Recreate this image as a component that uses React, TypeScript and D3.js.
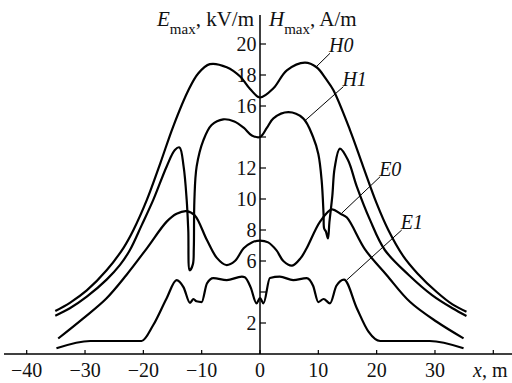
import React from "react";
import * as d3 from "d3";

type P = [number, number];

const H0: P[] = [
  [-35.1, 2.77], [-32.6, 3.3], [-29.7, 4.1], [-26.3, 5.4], [-23.4, 6.85], [-21.7, 8.0],
  [-19.4, 9.94], [-17.1, 12.3], [-14.9, 14.66], [-12.3, 17.0], [-10.6, 18.1],
  [-8.6, 18.7], [-5.7, 18.5], [-3.4, 17.9], [-1.7, 17.1], [0, 16.55], [2.3, 17.14],
  [4.6, 18.3], [7.7, 18.8], [9.7, 18.5], [11.4, 17.7], [12.57, 17.03], [15.43, 14.45],
  [17.7, 12.08], [20, 9.72], [22, 8.0], [24.5, 6.35], [27, 5.2], [30.3, 4.0], [33, 3.2],
  [35.4, 2.73],
];

const H1: P[] = [
  [-35.1, 2.47], [-32.6, 2.95], [-29.7, 3.7], [-26.3, 4.8], [-24, 5.75], [-22.3, 6.71],
  [-20.3, 8.3], [-18.3, 9.94], [-16, 12.1], [-14.6, 13.16], [-13.8, 13.33], [-13.1, 12.1],
  [-12.57, 9.94], [-12.3, 8.0], [-12.05, 5.4], [-11.5, 5.8], [-11.35, 6.8], [-11.25, 9.9],
  [-10.86, 12.1], [-9.7, 13.8], [-8.3, 14.77], [-6.3, 15.14], [-4.4, 15.0], [-2.8, 14.6],
  [-1.4, 14.1], [0, 14.0], [1.2, 14.6], [2.3, 15.2], [4.86, 15.6], [7.4, 15.2], [9.1, 14.0],
  [10.0, 12.9], [10.57, 11.2], [10.9, 9.0], [11.0, 8.1], [11.3, 7.9], [11.65, 7.45],
  [11.9, 8.5], [12.4, 10.2], [12.8, 12.0], [13.7, 13.25], [15.1, 12.5], [16.6, 10.8],
  [18.86, 8.65], [21.4, 6.71], [25.5, 5.1], [29.5, 3.8], [33, 2.95], [35.4, 2.45],
];

const E0: P[] = [
  [-34.6, 1.0], [-30.3, 2.3], [-26.3, 3.6], [-22.9, 5.1], [-19.4, 6.82], [-16, 8.54],
  [-14.3, 9.05], [-12.6, 9.22], [-11.2, 8.95], [-9.1, 7.35], [-7.4, 6.2], [-5.8, 5.74],
  [-4.3, 6.0], [-2.8, 6.82], [-1.4, 7.2], [0, 7.32], [1.4, 7.2], [2.8, 6.7], [4.0, 6.0],
  [5.5, 5.7], [7, 6.2], [8, 6.82], [10.3, 8.54], [12.3, 9.33], [13.8, 9.05], [14.9, 8.8],
  [18, 6.75], [21.7, 5.1], [25.7, 3.37], [30.3, 2.08], [34.9, 1.01],
];

const E1: P[] = [
  [-34.9, 0.37], [-29.1, 0.84], [-20.3, 0.84], [-18.3, 1.87], [-16, 3.6], [-14.3, 4.77],
  [-13.1, 4.3], [-12, 3.3], [-11.4, 3.55], [-10.9, 3.4], [-10, 3.35], [-9.1, 4.55],
  [-8, 4.9], [-5.7, 4.77], [-3.1, 4.99], [-2.6, 4.95], [-1.6, 4.3], [-0.6, 3.27], [0, 3.6],
  [0.6, 3.27], [1.7, 4.9], [3.4, 4.99], [5.7, 4.77], [8, 4.9], [9.1, 4.4], [10, 3.35],
  [10.9, 3.55], [12, 3.27], [13.1, 4.4], [14.4, 4.8], [16.6, 2.95], [18.6, 1.44],
  [20.6, 0.84], [29.1, 0.84], [34.9, 0.37],
];

const smoothSeries: P[][] = [H0, H1, E0];
const stepSeries: P[][] = [E1];

const xTicks = [-40, -30, -20, -10, 0, 10, 20, 30, 40];
const xTickLabels = ["\u221240", "\u221230", "\u221220", "\u221210", "0", "10", "20", "30", ""];
const yTicks = [2, 4, 6, 8, 10, 12, 14, 16, 18, 20];
const yTickLabels = ["2", "", "6", "8", "10", "12", "", "16", "18", "20"];

// label, curve point (x,y), label point (x,y)
const annotations: { label: string; from: P; to: P }[] = [
  { label: "H0", from: [9.7, 18.55], to: [12.0, 19.4] },
  { label: "H1", from: [7.7, 15.05], to: [14.3, 17.25] },
  { label: "E0", from: [14.0, 9.08], to: [20.6, 11.44] },
  { label: "E1", from: [14.86, 4.77], to: [24.3, 8.0] },
];

const W = 512;
const H = 383;
const FONT = "'Liberation Serif', 'Times New Roman', serif";

export default function App() {
  const x = d3.scaleLinear().domain([-40, 40]).range([26.7, 493.3]);
  const y = d3.scaleLinear().domain([0, 20]).range([354, 44]);
  const smooth = d3
    .line<P>()
    .x((d) => x(d[0]))
    .y((d) => y(d[1]))
    .curve(d3.curveCatmullRom.alpha(0.5));
  const mono = d3
    .line<P>()
    .x((d) => x(d[0]))
    .y((d) => y(d[1]))
    .curve(d3.curveMonotoneX);

  const axisX0 = x(0);
  const axisY0 = y(0);

  return (
    <svg
      width={W}
      height={H}
      style={{ position: "absolute", left: 0, top: 0, background: "#fff" }}
      fontFamily={FONT}
    >
      {/* x axis */}
      <line x1={4} x2={512} y1={axisY0} y2={axisY0} stroke="#000" strokeWidth={1.5} />
      {xTicks.map((t, i) => (
        <g key={"xt" + t}>
          <line x1={x(t)} x2={x(t)} y1={axisY0} y2={axisY0 - 4} stroke="#000" strokeWidth={1.2} />
          <text x={x(t)} y={377} textAnchor="middle" fontSize={20} fill="#111">
            {xTickLabels[i]}
          </text>
        </g>
      ))}
      <text x={473} y={377} fontSize={20} fill="#111">
        <tspan fontStyle="italic">x</tspan>
        <tspan>, m</tspan>
      </text>

      {/* y axis */}
      <line x1={axisX0} x2={axisX0} y1={15} y2={axisY0} stroke="#000" strokeWidth={1.5} />
      {yTicks.map((t, i) => (
        <g key={"yt" + t}>
          <line x1={axisX0} x2={axisX0 + 6} y1={y(t)} y2={y(t)} stroke="#000" strokeWidth={1.2} />
          <text x={256.5} y={y(t)} dy="0.35em" textAnchor="end" fontSize={20} fill="#111">
            {yTickLabels[i]}
          </text>
        </g>
      ))}

      {/* axis titles */}
      <text x={254} y={26} textAnchor="end" fontSize={21} fill="#111">
        <tspan fontStyle="italic">E</tspan>
        <tspan fontSize={15} dy={8}>max</tspan>
        <tspan dy={-8}>, kV/m</tspan>
      </text>
      <text x={269} y={26} fontSize={21} fill="#111">
        <tspan fontStyle="italic">H</tspan>
        <tspan fontSize={15} dy={8}>max</tspan>
        <tspan dy={-8}>, A/m</tspan>
      </text>

      {/* curves */}
      {smoothSeries.map((s, i) => (
        <path key={"s" + i} d={smooth(s) || ""} fill="none" stroke="#000" strokeWidth={2.2} strokeLinejoin="round" />
      ))}
      {stepSeries.map((s, i) => (
        <path key={"m" + i} d={mono(s) || ""} fill="none" stroke="#000" strokeWidth={2.2} strokeLinejoin="round" />
      ))}

      {/* annotations */}
      {annotations.map((a) => (
        <g key={a.label}>
          <line
            x1={x(a.from[0])}
            y1={y(a.from[1])}
            x2={x(a.to[0])}
            y2={y(a.to[1])}
            stroke="#000"
            strokeWidth={1}
          />
          <text x={x(a.to[0]) - 1} y={y(a.to[1]) - 1} fontSize={20} fontStyle="italic" fill="#111">
            {a.label}
          </text>
        </g>
      ))}
    </svg>
  );
}
